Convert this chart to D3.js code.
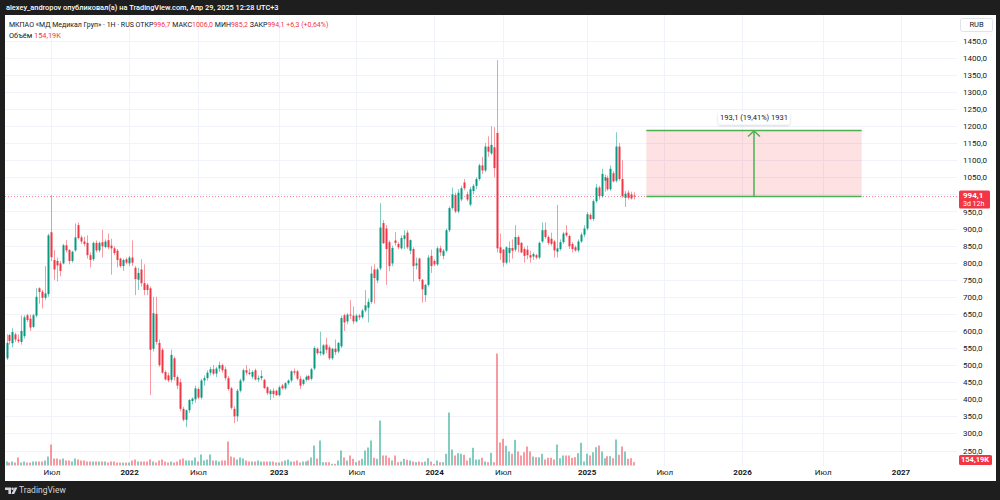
<!DOCTYPE html>
<html>
<head>
<meta charset="utf-8">
<script src="https://cdn.jsdelivr.net/npm/d3@7"></script>
<style>
body { margin: 0; background: #1e1e1e; }
svg { display: block; font-family: Roboto, "Liberation Sans", sans-serif; }
</style>
</head>
<body>
<div class="chart"></div>
<script>
'use strict';

const W = 1000, H = 500;
const plot = {left: 5, top: 15, right: 957, bottom: 466};

// weekly candles: [open, high, low, close]
const ohlc = [
    [520,590,515,565],[588,592,560,571],[564,608,552,597],[590,595,568,575],[575,590,565,570],
    [568,645,560,600],[585,646,578,640],[646,650,626,632],[636,648,600,610],[612,650,608,646],
    [645,725,640,700],[725,728,680,714],[715,720,666,697],[697,790,690,710],[708,885,700,880],
    [889,998,805,816],[808,837,750,780],[805,815,745,792],[798,805,760,776],[798,855,795,851],
    [851,866,830,836],[837,840,795,805],[805,835,800,832],[836,915,832,874],[910,918,868,872],
    [874,880,855,862],[862,876,848,855],[858,880,812,822],[822,830,786,808],[810,862,805,858],
    [858,865,830,836],[836,862,830,858],[860,896,815,848],[846,868,842,862],[866,885,840,845],
    [850,870,765,842],[842,848,822,828],[835,840,786,808],[812,815,785,790],[790,812,776,808],
    [810,815,795,800],[798,820,790,815],[815,865,790,800],[785,790,705,752],[750,785,720,770],
    [780,810,730,740],[740,795,705,720],[735,740,705,720],[725,730,412,545],[548,700,540,652],
    [650,700,560,568],[565,575,495,500],[545,550,475,478],[480,485,455,458],[470,478,450,455],
    [457,545,450,530],[520,525,455,465],[465,470,430,440],[450,460,365,372],[372,378,335,340],
    [340,370,318,368],[368,400,360,398],[395,405,385,402],[400,440,390,432],[430,435,400,405],
    [405,460,400,455],[455,470,440,462],[462,485,455,478],[478,495,470,488],[488,500,470,475],
    [475,495,465,490],[490,510,480,500],[500,505,478,485],[488,495,455,462],[462,468,425,430],
    [432,436,370,375],[372,380,330,350],[350,430,335,425],[425,460,420,455],[455,490,450,485],
    [485,500,470,478],[478,490,470,474],[466,485,460,480],[485,490,455,458],[458,470,450,462],
    [462,485,455,468],[457,460,430,433],[435,438,412,418],[415,430,398,425],[425,432,405,415],
    [425,428,410,412],[412,440,408,435],[440,445,428,432],[432,450,428,447],[447,458,442,455],
    [455,485,450,482],[482,490,470,478],[482,486,455,460],[460,468,430,440],[445,460,440,457],
    [457,470,452,466],[468,472,455,458],[460,492,455,488],[490,555,485,550],[548,552,530,535],
    [535,598,528,540],[532,562,528,558],[560,580,535,545],[552,558,515,520],[520,550,515,548],
    [548,575,530,538],[540,568,535,565],[555,645,550,638],[646,650,600,625],[628,652,620,648],
    [648,690,635,645],[645,672,620,628],[628,650,625,645],[645,650,632,640],[640,665,636,660],
    [660,720,655,675],[668,695,625,685],[685,790,680,768],[780,795,680,755],[748,785,740,780],
    [783,974,778,903],[916,925,855,857],[900,910,735,840],[860,865,775,790],[798,850,790,843],
    [865,890,850,858],[855,860,840,845],[842,880,838,872],[870,895,840,880],[888,895,840,845],
    [835,868,825,866],[840,845,745,790],[792,815,780,798],[812,815,745,752],[750,752,683,722],
    [705,738,685,735],[735,822,730,815],[820,838,770,790],[805,810,790,795],[795,848,790,842],
    [842,850,820,830],[820,840,810,835],[835,900,830,895],[895,965,890,960],[960,1020,955,1000],
    [998,1005,945,950],[950,1015,945,1005],[985,1025,980,1018],[1035,1045,1012,1018],[1000,1008,980,985],
    [970,1022,965,1015],[1010,1030,1000,1025],[1025,1050,1015,1045],[1045,1090,1040,1085],[1085,1110,1060,1070],
    [1070,1150,1065,1140],[1140,1170,1110,1125],[1120,1200,1115,1145],[1138,1197,1050,1077],[1180,1393,830,842],
    [845,885,808,828],[838,840,788,800],[800,848,795,845],[828,862,800,843],[843,868,812,835],
    [838,910,832,875],[875,880,830,852],[858,860,828,830],[840,845,800,820],[838,850,810,822],
    [822,835,800,815],[818,830,808,825],[822,826,810,815],[815,862,810,858],[862,918,858,895],
    [896,918,870,875],[875,880,852,858],[870,888,850,855],[862,866,815,836],[832,969,815,842],
    [840,868,835,860],[860,890,855,885],[888,910,875,880],[878,882,840,848],[855,860,830,840],
    [845,850,832,836],[836,868,830,862],[862,888,858,882],[882,910,875,900],[900,948,895,942],
    [940,945,925,928],[928,985,922,980],[980,1030,975,1020],[1020,1025,985,995],[995,1075,990,1060],
    [1040,1058,1008,1050],[1048,1055,1010,1015],[1015,1085,1010,1075],[1062,1068,1035,1038],[1040,1182,1035,1140],
    [1140,1150,1040,1045],[1045,1100,990,995],[990,1010,963,1002],[1005,1012,985,990],[1000,1008,985,988],
    [996.7,1006,985.2,994.1]
];

// weekly volume, thousands
const volume = [
    184,138,184,138,368,138,184,138,138,184,
    184,184,184,230,414,966,322,322,276,322,
    230,230,184,322,276,230,230,184,184,184,
    184,184,184,184,138,184,184,138,138,138,
    138,138,230,276,184,184,184,184,276,184,
    138,230,276,184,138,184,138,184,276,322,
    230,230,230,368,184,506,230,276,506,230,
    230,184,230,230,1104,414,368,276,368,322,
    230,184,184,184,230,184,184,184,184,184,
    138,138,184,230,276,184,184,230,138,184,
    184,230,368,920,322,1150,152,152,152,78,
    78,230,690,368,230,460,308,152,230,308,
    690,828,1150,354,308,2070,460,460,354,230,
    460,152,184,308,262,230,184,152,184,152,
    184,336,184,78,230,152,152,538,2438,736,
    460,566,538,492,230,354,814,276,276,354,
    184,152,584,152,5152,1058,1228,906,644,538,
    1182,644,460,612,874,644,414,382,382,538,
    276,354,354,276,966,336,460,460,460,354,
    382,566,1044,184,538,460,612,842,920,644,
    336,428,428,336,1196,492,874,644,308,336,
    154.19
];

const timeTickIdx = [15, 41, 64, 91, 117, 143, 166, 194, 220, 246, 273, 299];
const timeTickLabels = ['Июл', '2022', 'Июл', '2023', 'Июл', '2024', 'Июл', '2025', 'Июл', '2026', 'Июл', '2027'];
const priceTicks = [250, 300, 350, 400, 450, 500, 550, 600, 650, 700, 750, 800, 850,
    900, 950, 1000, 1050, 1100, 1150, 1200, 1250, 1300, 1350, 1400, 1450];

const lastPrice = 994.1;
const measure = {from: 994.1, to: 1187.2, startIdx: 214, endIdx: 286, label: '193,1 (19,41%) 1931'};

const upColor = '#089981';
const downColor = '#f23645';
const gridColor = '#f0f3fa';
const textColor = '#131722';

const ru = d3.formatLocale({decimal: ',', thousands: '', grouping: [3], currency: ['', '']});
const priceFormat = ru.format('.1f');

const xScale = d3.scaleLinear()
    .domain([0, ohlc.length - 1])
    .range([6.5, 634.4]);

const yScale = d3.scaleLinear()
    .domain([250, 1450])
    .range([450.5, 40.7]);

const volScale = d3.scaleLinear()
    .domain([0, 5200])
    .range([465.5, 352.5]);

function isUp(d) {
    return d[3] >= d[0];
}

function drawFrame(svg) {
    svg.append('rect').attr('width', W).attr('height', H).attr('fill', '#1e1e1e');
    svg.append('rect')
        .attr('x', 5).attr('y', 15)
        .attr('width', 991).attr('height', 466)
        .attr('fill', '#ffffff');

    svg.append('text')
        .attr('x', 6).attr('y', 8)
        .attr('dominant-baseline', 'middle')
        .attr('fill', '#ffffff')
        .attr('font-size', 7.4)
        .attr('font-weight', 500)
        .text('alexey_andropov опубликовал(а) на TradingView.com, Апр 29, 2025 12:28 UTC+3');

    // TradingView logo
    const logo = svg.append('g').attr('fill', '#d1d4dc');
    logo.append('path').attr('d', 'M5,487.5 h6 v6.5 h-2.6 v-4 h-3.4 z');
    logo.append('circle').attr('cx', 12.6).attr('cy', 488.8).attr('r', 1.3);
    logo.append('path').attr('d', 'M14.6,487.5 h2.8 l-3.2,6.5 h-2.8 z');
    svg.append('text')
        .attr('x', 19).attr('y', 491)
        .attr('dominant-baseline', 'middle')
        .attr('fill', '#d1d4dc')
        .attr('font-size', 8.5)
        .text('TradingView');
}

function drawGrid(svg) {
    const g = svg.append('g').attr('class', 'grid');
    g.selectAll('.hgrid')
        .data(priceTicks)
        .enter().append('line')
        .attr('x1', plot.left).attr('x2', plot.right)
        .attr('y1', d => Math.round(yScale(d)) + 0.5)
        .attr('y2', d => Math.round(yScale(d)) + 0.5)
        .attr('stroke', gridColor);
    g.selectAll('.vgrid')
        .data(timeTickIdx)
        .enter().append('line')
        .attr('x1', d => Math.round(xScale(d)) + 0.5)
        .attr('x2', d => Math.round(xScale(d)) + 0.5)
        .attr('y1', plot.top).attr('y2', plot.bottom)
        .attr('stroke', gridColor);
}

function drawVolume(svg) {
    svg.append('g').attr('class', 'volume')
        .selectAll('rect')
        .data(volume)
        .enter().append('rect')
        .attr('x', (d, i) => Math.round(xScale(i)) - 1)
        .attr('width', 2)
        .attr('y', d => volScale(d))
        .attr('height', d => volScale(0) - volScale(d))
        .attr('fill', (d, i) => isUp(ohlc[i]) ? upColor : downColor)
        .attr('fill-opacity', 0.5);
}

function drawCandles(svg) {
    const g = svg.append('g').attr('class', 'candles');
    const c = g.selectAll('g')
        .data(ohlc)
        .enter().append('g');

    c.append('line')
        .attr('x1', (d, i) => Math.round(xScale(i)) + 0.5)
        .attr('x2', (d, i) => Math.round(xScale(i)) + 0.5)
        .attr('y1', d => yScale(d[1]))
        .attr('y2', d => yScale(d[2]))
        .attr('stroke', d => isUp(d) ? upColor : downColor)
        .attr('stroke-opacity', 0.5);

    c.append('rect')
        .attr('x', (d, i) => Math.round(xScale(i)) - 0.5)
        .attr('width', 2)
        .attr('y', d => yScale(Math.max(d[0], d[3])))
        .attr('height', d => Math.max(1, Math.abs(yScale(d[0]) - yScale(d[3]))))
        .attr('fill', d => isUp(d) ? upColor : downColor);
}

function drawMeasure(svg) {
    const g = svg.append('g').attr('class', 'measure');
    const x0 = xScale(measure.startIdx), x1 = xScale(measure.endIdx);
    const xm = (x0 + x1) / 2;
    const yTop = yScale(measure.to), yBot = yScale(measure.from);

    g.append('rect')
        .attr('x', x0).attr('y', yTop)
        .attr('width', x1 - x0).attr('height', yBot - yTop)
        .attr('fill', downColor).attr('fill-opacity', 0.15);
    g.selectAll('.edge')
        .data([yTop, yBot])
        .enter().append('line')
        .attr('x1', x0).attr('x2', x1)
        .attr('y1', d => d).attr('y2', d => d)
        .attr('stroke', '#4caf50').attr('stroke-width', 1.5);
    g.append('line')
        .attr('x1', xm).attr('x2', xm)
        .attr('y1', yBot).attr('y2', yTop + 1)
        .attr('stroke', '#4caf50').attr('stroke-width', 1.5);
    g.append('path')
        .attr('d', `M${xm - 6},${yTop + 6} L${xm},${yTop + 0.5} L${xm + 6},${yTop + 6}`)
        .attr('fill', 'none')
        .attr('stroke', '#4caf50').attr('stroke-width', 1.5);

    const defs = svg.append('defs');
    const f = defs.append('filter').attr('id', 'shadow')
        .attr('x', '-20%').attr('y', '-50%').attr('width', '140%').attr('height', '200%');
    f.append('feDropShadow').attr('dx', 0).attr('dy', 1).attr('stdDeviation', 1.2)
        .attr('flood-color', '#000').attr('flood-opacity', 0.18);

    g.append('rect')
        .attr('x', xm - 36).attr('y', yTop - 19)
        .attr('width', 72).attr('height', 13)
        .attr('rx', 3)
        .attr('fill', '#fff')
        .attr('filter', 'url(#shadow)');
    g.append('text')
        .attr('x', xm).attr('y', yTop - 12.5)
        .attr('text-anchor', 'middle')
        .attr('dominant-baseline', 'middle')
        .attr('font-size', 7.5)
        .attr('fill', textColor)
        .text(measure.label);
}

function drawLastPriceLine(svg) {
    const y = Math.round(yScale(lastPrice)) + 0.5;
    svg.append('line')
        .attr('x1', plot.left).attr('x2', plot.right)
        .attr('y1', y).attr('y2', y)
        .attr('stroke', downColor)
        .attr('stroke-opacity', 0.6)
        .attr('stroke-dasharray', '1,2');
}

function drawXAxis(svg) {
    const axis = svg.append('g')
        .attr('class', 'axis axis--x')
        .attr('transform', `translate(0,${plot.bottom})`)
        .call(d3.axisBottom(xScale)
            .tickValues(timeTickIdx)
            .tickFormat((d, i) => timeTickLabels[i])
            .tickSize(0)
            .tickPadding(3));
    axis.select('.domain').remove();
    axis.selectAll('text')
        .attr('font-family', 'Roboto, sans-serif')
        .attr('font-size', 8)
        .attr('fill', textColor)
        .attr('font-weight', (d, i) => timeTickLabels[i] === 'Июл' ? 400 : 700);
}

function drawYAxis(svg) {
    const axis = svg.append('g')
        .attr('class', 'axis axis--y')
        .attr('transform', `translate(${plot.right},0)`)
        .call(d3.axisRight(yScale)
            .tickValues(priceTicks)
            .tickFormat(priceFormat)
            .tickSize(0)
            .tickPadding(6));
    axis.select('.domain').remove();
    axis.selectAll('text')
        .attr('font-family', 'Roboto, sans-serif')
        .attr('font-size', 8)
        .attr('fill', textColor);

    // currency box
    svg.append('rect')
        .attr('x', 960.5).attr('y', 18.5)
        .attr('width', 32).attr('height', 13)
        .attr('rx', 2)
        .attr('fill', '#fff')
        .attr('stroke', '#e0e3eb');
    svg.append('text')
        .attr('x', 976.5).attr('y', 25.5)
        .attr('text-anchor', 'middle')
        .attr('dominant-baseline', 'middle')
        .attr('font-size', 7.5)
        .attr('fill', textColor)
        .text('RUB');

    // last price tag
    const y = yScale(lastPrice);
    svg.append('rect')
        .attr('x', 959).attr('y', y - 6)
        .attr('width', 31).attr('height', 18)
        .attr('rx', 1.5)
        .attr('fill', downColor);
    svg.append('text')
        .attr('x', 963).attr('y', y - 0.5)
        .attr('dominant-baseline', 'middle')
        .attr('font-size', 8)
        .attr('font-weight', 700)
        .attr('fill', '#fff')
        .text(priceFormat(lastPrice));
    svg.append('text')
        .attr('x', 963).attr('y', y + 7.5)
        .attr('dominant-baseline', 'middle')
        .attr('font-size', 7)
        .attr('fill', '#fff')
        .text('3d 12h');

    // volume tag
    const vy = 460;
    svg.append('rect')
        .attr('x', 959).attr('y', vy - 5)
        .attr('width', 33).attr('height', 10)
        .attr('rx', 1.5)
        .attr('fill', downColor);
    svg.append('text')
        .attr('x', 961).attr('y', vy + 0.5)
        .attr('dominant-baseline', 'middle')
        .attr('font-size', 7.5)
        .attr('font-weight', 700)
        .attr('fill', '#fff')
        .text('154,19K');
}

function drawLegend(svg) {
    const last = ohlc[ohlc.length - 1];
    const t = svg.append('text')
        .attr('x', 9).attr('y', 25)
        .attr('dominant-baseline', 'middle')
        .attr('font-size', 7)
        .attr('fill', textColor);
    t.append('tspan').text('МКПАО «МД Медикал Груп» · 1Н · RUS ');
    const parts = [['ОТКР', last[0]], ['МАКС', last[1]], ['МИН', last[2]], ['ЗАКР', last[3]]];
    parts.forEach(p => {
        t.append('tspan').text(' ' + p[0]);
        t.append('tspan').attr('fill', downColor).text(priceFormat(p[1]));
    });
    t.append('tspan').attr('fill', downColor)
        .text('  +6,3 (+0,64%)');

    const v = svg.append('text')
        .attr('x', 9).attr('y', 36)
        .attr('dominant-baseline', 'middle')
        .attr('font-size', 7.4)
        .attr('fill', textColor);
    v.append('tspan').text('Объём  ');
    v.append('tspan').attr('fill', downColor).text('154,19K');
}

function run() {
    const svg = d3.select('.chart').append('svg')
        .attr('width', W)
        .attr('height', H);

    drawFrame(svg);
    drawGrid(svg);
    drawVolume(svg);
    drawLastPriceLine(svg);
    drawMeasure(svg);
    drawCandles(svg);
    drawXAxis(svg);
    drawYAxis(svg);
    drawLegend(svg);
}

run();
</script>
</body>
</html>
